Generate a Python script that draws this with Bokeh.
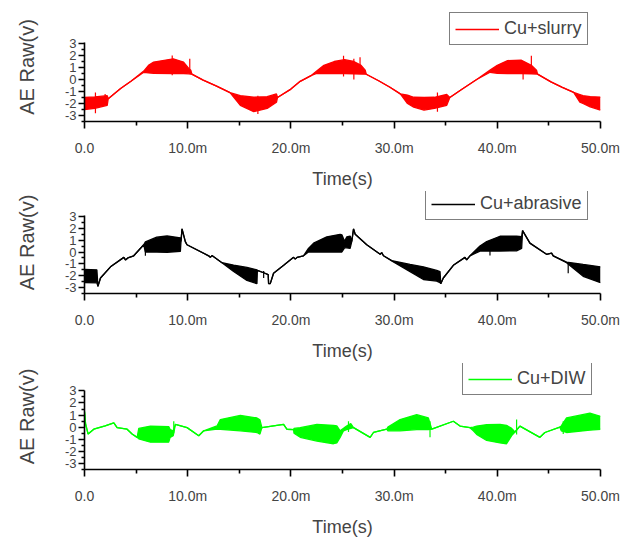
from bokeh.plotting import figure
from bokeh.models import Range1d, FixedTicker, Legend, LegendItem
from bokeh.layouts import column
from bokeh.embed import file_html
from bokeh.resources import INLINE

# ---------------- axis ticks / labels ----------------
time_ticks = [0, 10, 20, 30, 40, 50]            # ms
time_minor = [5, 15, 25, 35, 45]
time_labels = ["0.0", "10.0m", "20.0m", "30.0m", "40.0m", "50.0m"]
volt_ticks = [-3, -2, -1, 0, 1, 2, 3]
volt_minor = [-3.5, -2.5, -1.5, -0.5, 0.5, 1.5, 2.5]
volt_labels = ["-3", "-2", "-1", "0", "1", "2", "3"]

# ---------------- Cu+slurry (red): envelope of raw AE signal ----------------
slurry_t = [0, 1.0, 2.2, 2.3, 3.5, 4.5, 5.74, 6.2, 6.7, 8.6, 9.6, 10.1, 10.3, 10.4, 11.5, 12.8,
            14.1, 15.1, 16.4, 17.7, 18.6, 18.7, 20.0, 20.9, 22.0, 22.5, 23.2, 24.2, 25.2, 26.1,
            26.8, 27.2, 27.3, 28.5, 29.6, 30.6, 31.3, 31.9, 32.9, 33.9, 35.1, 35.4, 36.5, 38.0,
            39.3, 40.0, 41.0, 42.3, 43.3, 43.8, 43.9, 45.2, 46.3, 47.4, 48.0, 48.3, 49.0, 50.0]
slurry_lo = [-2.5, -2.4, -2.15, -1.6, -0.75, -0.15, 0.6, 0.55, 0.52, 0.5, 0.5, 0.47, 0.44, 0.45, -0.05, -0.55,
             -1.1, -2.15, -2.68, -2.41, -1.9, -1.5, -0.8, -0.15, 0.35, 0.5, 0.5, 0.5, 0.5, 0.48,
             0.46, 0.44, 0.44, -0.1, -0.65, -1.2, -2.0, -2.3, -2.55, -2.41, -2.15, -1.5, -0.85, 0.0,
             0.6, 0.52, 0.5, 0.5, 0.48, 0.45, 0.45, -0.2, -0.65, -1.08, -1.88, -2.0, -2.28, -2.55]
slurry_hi = [-1.5, -1.45, -1.35, -1.6, -0.75, -0.15, 0.7, 1.18, 1.45, 1.72, 1.45, 0.92, 0.78, 0.45, -0.05, -0.55,
             -1.1, -1.35, -1.48, -1.43, -1.2, -1.5, -0.8, -0.15, 0.35, 0.7, 1.18, 1.5, 1.65, 1.5,
             1.18, 0.78, 0.44, -0.1, -0.65, -1.2, -1.3, -1.48, -1.5, -1.48, -1.25, -1.5, -0.85, 0.0,
             0.78, 1.18, 1.58, 1.62, 1.18, 0.78, 0.45, -0.2, -0.65, -1.08, -1.25, -1.35, -1.42, -1.48]
slurry_spike_t = [1.06, 2.0, 8.5, 10.2, 16.8, 25.1, 26.1, 26.7, 34.2, 42.5, 43.3]
slurry_spike_lo = [-2.82, -2.1, 0.35, 0.52, -2.88, 0.25, 0.0, 0.78, -2.68, 0.0, 0.92]
slurry_spike_hi = [-1.08, -1.2, 2.0, 1.72, -1.35, 1.98, 1.72, 1.85, -1.08, 1.45, 1.98]

# ---------------- Cu+abrasive (black) ----------------
abrasive_t = [0, 1.2, 1.3, 1.55, 2.52, 3.81, 3.97, 4.2, 4.77, 5.74, 5.9, 7.0, 8.0, 9.29, 9.35, 9.45,
              9.77, 9.93, 12.03, 12.19, 12.35, 13.32, 14.45, 15.74, 16.71, 16.75, 17.36, 17.8, 17.84,
              18.0, 18.32, 19.3, 20.26, 20.42, 20.6, 21.22, 21.7, 22.2, 23.48, 24.77, 24.94, 25.2,
              25.42, 25.74, 25.9, 26.07, 26.23, 27.35, 28.65, 28.8, 28.97, 29.77, 31.55, 32.84,
              34.13, 34.45, 34.52, 34.77, 35.74, 36.87, 37.03, 37.35, 38.32, 38.97, 40.26, 41.87,
              42.36, 42.45, 43.16, 44.77, 45.26, 45.42, 46.71, 48.32, 50.0]
abrasive_lo = [-2.59, -2.6, -2.9, -2.19, -1.25, -0.45, -0.67, -0.5, -0.32, 0.61, 0.0, 0.0, -0.02, 0.05, 0.9, 1.95,
               0.88, 0.61, -0.32, -0.45, -0.3, -0.9, -1.65, -2.4, -2.67, -1.55, -1.75, -1.9, -2.67,
               -2.67, -1.79, -1.12, -0.45, -0.6, -0.45, -0.32, 0.0, 0.0, 0.0, 0.0, 0.0, 0.35,
               0.35, 0.3, 0.9, 1.95, 1.5, 0.61, -0.19, -0.05, -0.32, -0.75, -1.65, -2.32,
               -2.45, -2.59, -2.67, -2.19, -1.12, -0.45, -0.67, -0.32, 0.08, 0.08, 0.08, 0.1,
               0.3, 1.81, 0.75, -0.19, -0.1, -0.32, -0.9, -2.05, -2.59]
abrasive_hi = [-1.47, -1.5, -2.9, -2.19, -1.25, -0.45, -0.67, -0.5, -0.32, 0.61, 0.85, 1.25, 1.35, 1.2, 0.9, 1.95,
               0.88, 0.61, -0.32, -0.45, -0.3, -0.9, -1.1, -1.3, -1.5, -1.55, -1.75, -1.9, -2.67,
               -2.67, -1.79, -1.12, -0.45, -0.6, -0.45, -0.32, 0.3, 0.75, 1.28, 1.49, 1.45, 0.9,
               1.28, 1.35, 0.9, 1.95, 1.5, 0.61, -0.19, -0.05, -0.32, -0.72, -1.05, -1.25,
               -1.55, -1.65, -2.67, -2.19, -1.12, -0.45, -0.67, -0.32, 0.5, 0.88, 1.33, 1.33,
               1.3, 1.81, 0.75, -0.19, -0.1, -0.32, -0.85, -1.05, -1.25]
abrasive_spike_t = [5.9, 17.36, 39.29, 46.87]
abrasive_spike_lo = [-0.32, -2.2, -0.3, -1.8]
abrasive_spike_hi = [0.6, -1.6, 0.1, -0.9]

# ---------------- Cu+DIW (green) ----------------
diw_t = [0, 0.1, 0.35, 0.9, 2.0, 2.84, 3.16, 4.13, 4.61, 5.1, 5.26, 6.39, 8.16, 8.3, 8.6, 8.81,
         9.94, 11.07, 11.55, 12.84, 13.16, 15.1, 16.71, 17.0, 17.19, 19.29, 19.61, 20.26, 20.3,
         20.9, 22.52, 24.13, 24.45, 24.77, 25.1, 25.4, 25.8, 26.07, 27.68, 28.0, 29.29, 29.4,
         30.58, 32.19, 33.32, 33.65, 35.74, 36.39, 37.35, 37.68, 38.0, 38.97, 40.26, 40.9,
         41.39, 41.71, 42.19, 44.13, 44.61, 46.06, 46.2, 46.71, 48.97, 50.0]
diw_lo = [1.3, 0.3, -0.57, -0.17, 0.1, 0.36, -0.04, -0.17, -0.57, -0.84, -0.97, -1.24, -1.24, -0.84, -0.7, 0.23,
          -0.04, -0.71, -0.3, -0.17, -0.17, -0.3, -0.44, -0.57, -0.04, 0.23, -0.17, -0.2, -0.5,
          -0.84, -1.15, -1.37, -1.3, -0.84, -0.3, -0.2, -0.1, -0.04, -0.84, -0.44, -0.17, -0.3,
          -0.3, -0.2, -0.2, -0.17, 0.49, 0.09, -0.04, -0.3, -0.6, -1.1, -1.3, -1.37,
          -0.7, -0.4, 0.09, -0.84, -0.44, 0.0, -0.3, -0.44, -0.25, -0.17]
diw_hi = [1.3, 0.3, -0.57, -0.17, 0.1, 0.36, -0.04, -0.17, -0.57, -0.84, -0.1, 0.09, 0.05, -0.2, -0.3, 0.23,
          -0.04, -0.71, -0.3, 0.1, 0.63, 0.97, 0.76, 0.6, -0.04, 0.23, -0.17, -0.2, -0.1,
          -0.04, 0.23, 0.15, 0.1, -0.3, -0.1, 0.1, 0.3, -0.04, -0.84, -0.44, -0.17, 0.0,
          0.63, 1.03, 0.76, -0.17, 0.49, 0.09, -0.04, 0.0, 0.09, 0.2, 0.23, 0.15,
          -0.1, -0.4, 0.09, -0.84, -0.44, 0.0, 0.1, 0.76, 1.16, 0.9]
diw_spike_t = [8.65, 25.58, 33.48, 41.87, 46.39]
diw_spike_lo = [-0.5, -0.4, -0.84, -0.6, -0.57]
diw_spike_hi = [0.49, 0.49, 0.5, 0.63, 0.5]

FONT = "Liberation Sans"
PX_PER_VOLT = 12.55
Y_START = -3.5
Y_AXIS_TOP = 3.05


def panel(t, lo, hi, st, slo, shi, color, label, height, top, bottom, legend_xy):
    frame_h = height - top - bottom
    p = figure(width=633, height=height, output_backend="svg", toolbar_location=None,
               x_range=Range1d(0, 50), y_range=Range1d(Y_START, Y_START + frame_h / PX_PER_VOLT),
               min_border_left=84, min_border_right=33, min_border_top=top, min_border_bottom=bottom)
    p.outline_line_color = None
    p.xgrid.visible = False
    p.ygrid.visible = False
    p.background_fill_color = "white"

    p.varea(x=t, y1=lo, y2=hi, fill_color=color, fill_alpha=1.0)
    p.line(t, lo, line_color=color, line_width=1.3)
    r = p.line(t, hi, line_color=color, line_width=1.3)
    p.segment(x0=st, y0=slo, x1=st, y1=shi, line_color=color, line_width=1.2)

    xa = p.xaxis[0]
    xa.ticker = FixedTicker(ticks=time_ticks, minor_ticks=time_minor)
    xa.major_label_overrides = dict(zip(time_ticks, time_labels))
    xa.axis_label = "Time(s)"
    xa.axis_label_text_font = FONT
    xa.axis_label_text_font_size = "18px"
    xa.axis_label_text_font_style = "normal"
    xa.major_label_text_font = FONT
    xa.major_label_text_font_size = "14px"
    xa.major_label_standoff = 11
    xa.axis_label_standoff = 10
    xa.axis_line_width = 1.6
    xa.major_tick_line_width = 1.6
    xa.minor_tick_line_width = 1.6
    xa.major_tick_in = 0
    xa.major_tick_out = 7
    xa.minor_tick_in = 0
    xa.minor_tick_out = 4

    ya = p.yaxis[0]
    ya.ticker = FixedTicker(ticks=volt_ticks, minor_ticks=volt_minor)
    ya.major_label_overrides = dict(zip(volt_ticks, volt_labels))
    ya.bounds = (Y_START, Y_AXIS_TOP)
    ya.axis_label = "AE Raw(v)"
    ya.axis_label_text_font = FONT
    ya.axis_label_text_font_size = "20px"
    ya.axis_label_text_font_style = "normal"
    ya.major_label_text_font = FONT
    ya.major_label_text_font_size = "13px"
    ya.major_label_standoff = 2
    ya.axis_label_standoff = 24
    ya.axis_line_width = 1.6
    ya.major_tick_line_width = 1.4
    ya.minor_tick_line_width = 1.4
    ya.major_tick_in = 0
    ya.major_tick_out = 6
    ya.minor_tick_in = 0
    ya.minor_tick_out = 3

    leg = Legend(items=[LegendItem(label=label, renderers=[r])], location=legend_xy)
    leg.border_line_color = "black"
    leg.border_line_width = 1
    leg.background_fill_color = "white"
    leg.background_fill_alpha = 1.0
    leg.padding = 5
    leg.spacing = 0
    leg.margin = 0
    leg.glyph_width = 44
    leg.glyph_height = 18
    leg.label_standoff = 5
    leg.label_text_font = FONT
    leg.label_text_font_size = "18px"
    leg.label_height = 18
    p.add_layout(leg, "center")
    return p


p1 = panel(slurry_t, slurry_lo, slurry_hi, slurry_spike_t, slurry_spike_lo, slurry_spike_hi,
           "#ff0000", "Cu+slurry", 191, 12, 65, (365, 76))
p2 = panel(abrasive_t, abrasive_lo, abrasive_hi, abrasive_spike_t, abrasive_spike_lo, abrasive_spike_hi,
           "#000000", "Cu+abrasive", 172, 0, 64, (341, 73))
p3 = panel(diw_t, diw_lo, diw_hi, diw_spike_t, diw_spike_lo, diw_spike_hi,
           "#00ff00", "Cu+DIW", 176, 0, 66, (378, 74))

layout = column(p1, p2, p3, spacing=0)
open("out.html", "w").write(file_html(layout, INLINE))
